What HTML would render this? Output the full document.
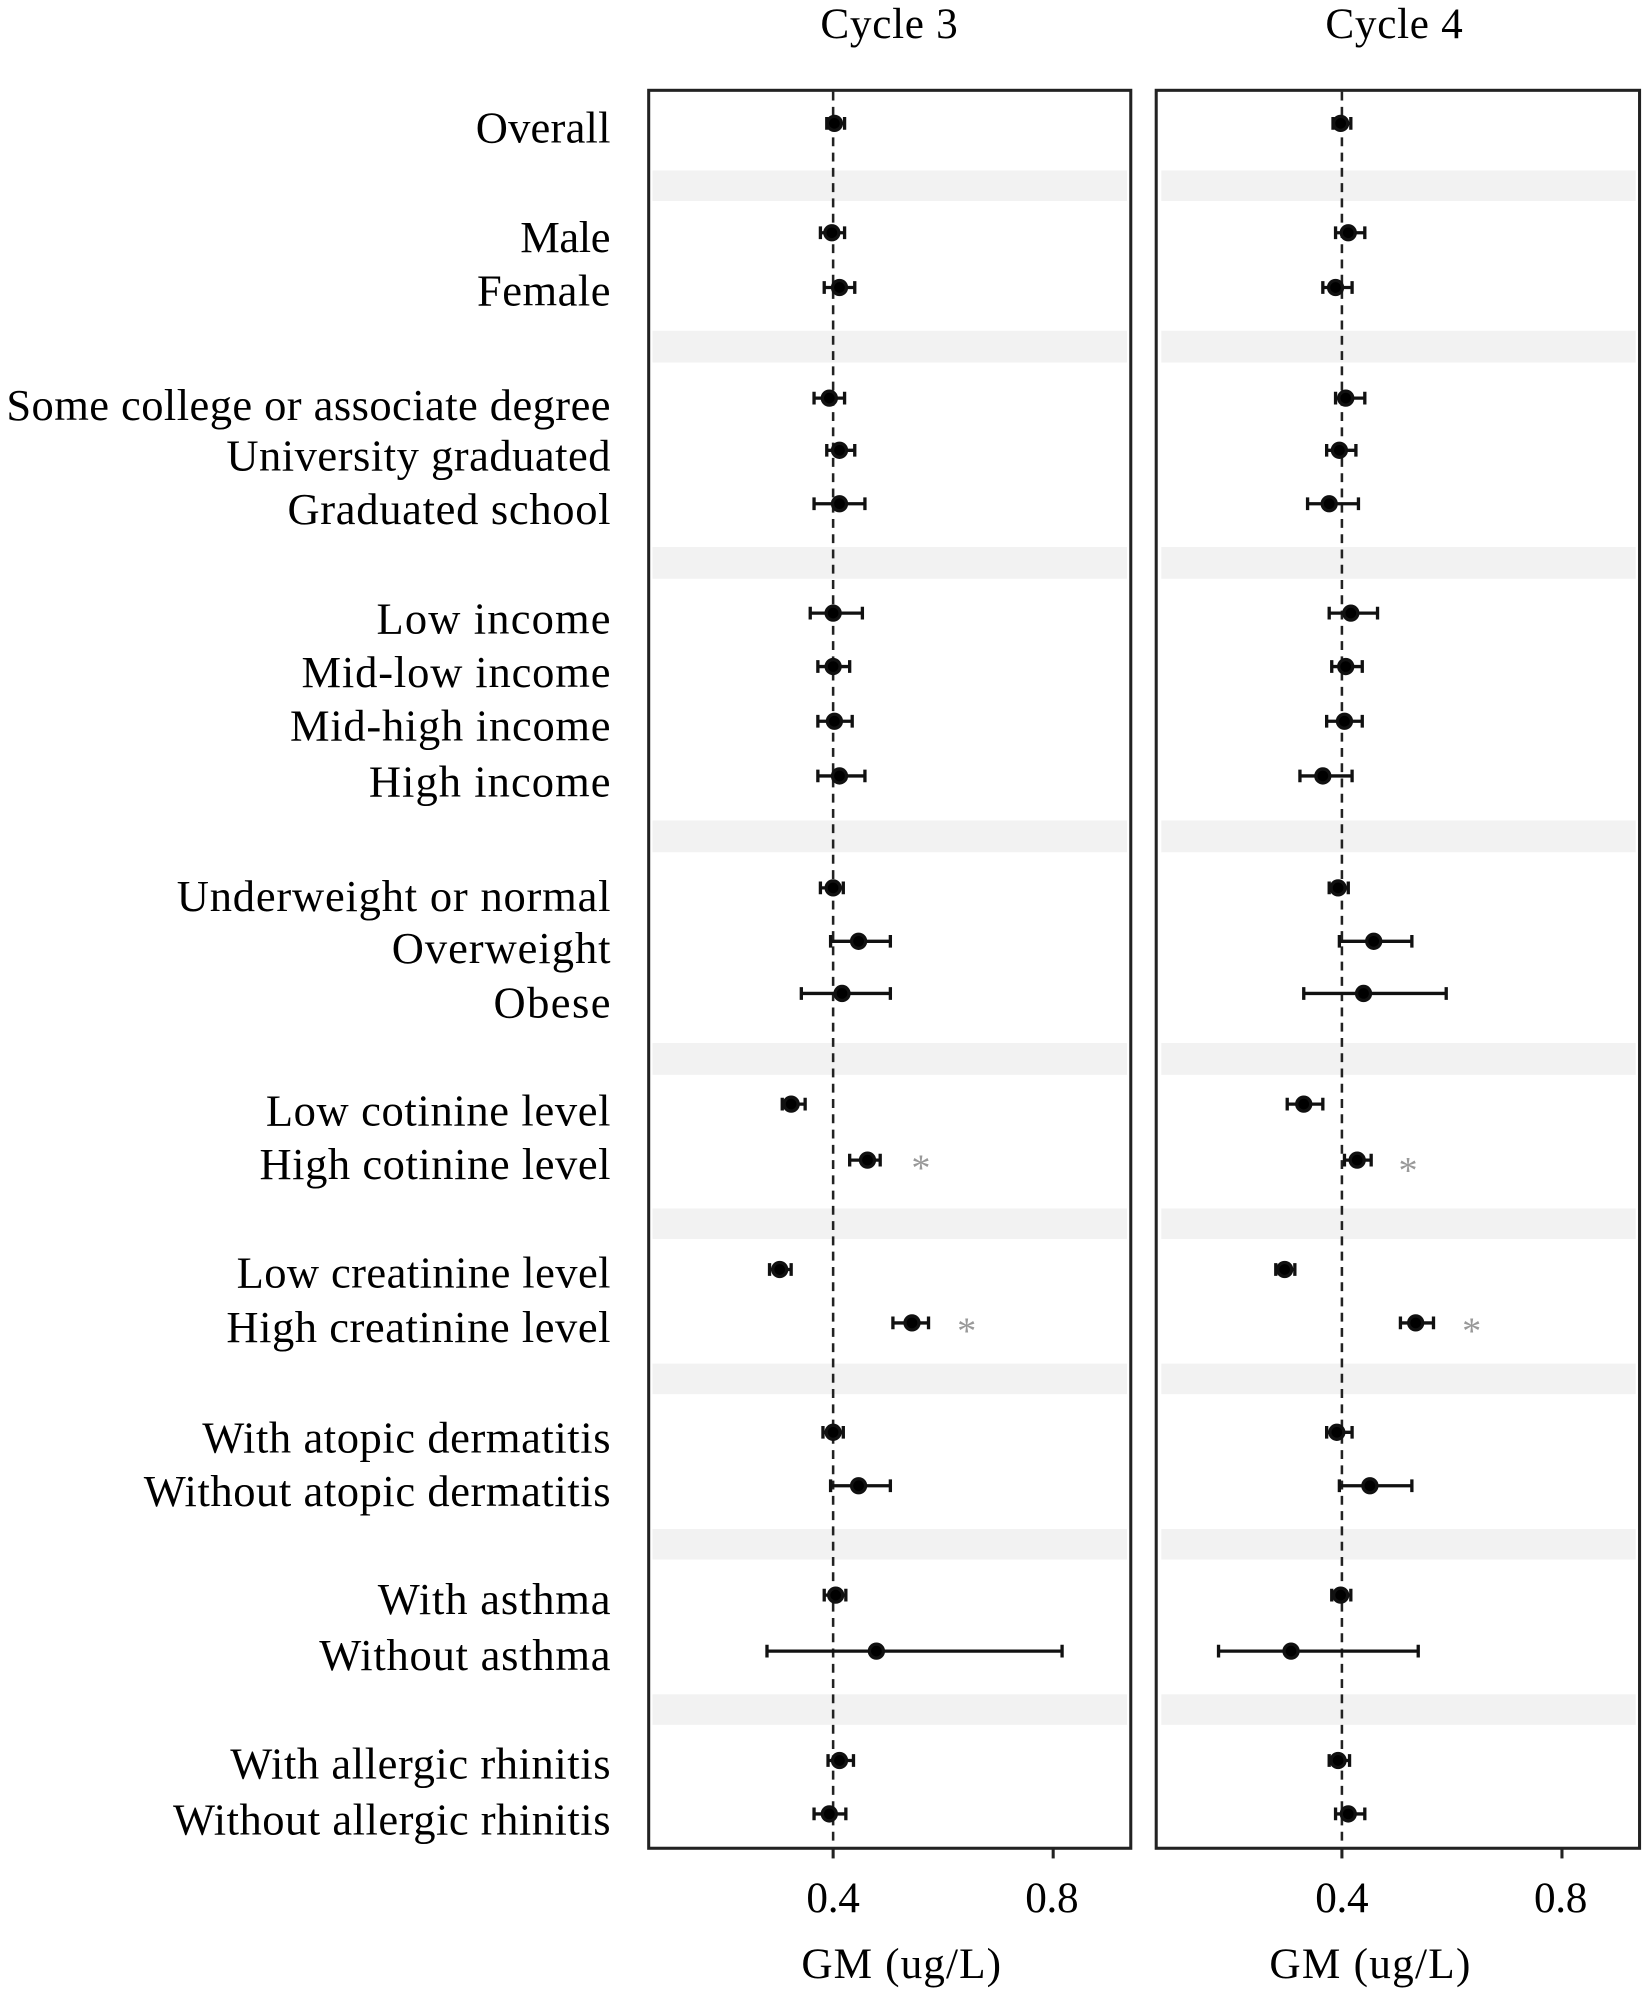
<!DOCTYPE html>
<html><head><meta charset="utf-8"><style>html,body{margin:0;padding:0;background:#fff}svg{display:block}</style></head>
<body>
<svg width="1651" height="1992" viewBox="0 0 1298 1566" preserveAspectRatio="none" xmlns="http://www.w3.org/2000/svg" font-family="Liberation Serif, serif">
<g fill="#f2f2f2">
<rect x="513" y="134" width="373" height="24"/><rect x="913" y="134" width="373" height="24"/>
<rect x="513" y="260" width="373" height="25"/><rect x="913" y="260" width="373" height="25"/>
<rect x="513" y="430" width="373" height="25"/><rect x="913" y="430" width="373" height="25"/>
<rect x="513" y="645" width="373" height="25"/><rect x="913" y="645" width="373" height="25"/>
<rect x="513" y="820" width="373" height="25"/><rect x="913" y="820" width="373" height="25"/>
<rect x="513" y="950" width="373" height="24"/><rect x="913" y="950" width="373" height="24"/>
<rect x="513" y="1072" width="373" height="24"/><rect x="913" y="1072" width="373" height="24"/>
<rect x="513" y="1202" width="373" height="24"/><rect x="913" y="1202" width="373" height="24"/>
<rect x="513" y="1332" width="373" height="24"/><rect x="913" y="1332" width="373" height="24"/>
</g>
<g stroke="#222" stroke-width="2" stroke-dasharray="7,5">
<line x1="655" y1="72" x2="655" y2="1452"/><line x1="1055" y1="72" x2="1055" y2="1452"/>
</g>
<g fill="none" stroke="#222" stroke-width="2.4">
<rect x="510" y="71" width="379" height="1382"/><rect x="909" y="71" width="380" height="1382"/>
<line x1="655" y1="1453" x2="655" y2="1461"/><line x1="828" y1="1453" x2="828" y2="1461"/>
<line x1="1055" y1="1453" x2="1055" y2="1461"/><line x1="1228" y1="1453" x2="1228" y2="1461"/>
</g>
<g font-size="34" fill="#000" lengthAdjust="spacingAndGlyphs">
<text x="645" y="30" textLength="108">Cycle 3</text><text x="1042" y="30" textLength="108">Cycle 4</text>
<text x="634" y="1503" textLength="42">0.4</text><text x="806" y="1503" textLength="42">0.8</text>
<text x="1034" y="1503" textLength="42">0.4</text><text x="1206" y="1503" textLength="42">0.8</text>
<text x="630" y="1555" textLength="157">GM (ug/L)</text><text x="998" y="1555" textLength="158">GM (ug/L)</text>
</g>
<g font-size="35" fill="#000" lengthAdjust="spacingAndGlyphs">
<text x="374" y="112" textLength="106">Overall</text>
<text x="409" y="198" textLength="71">Male</text>
<text x="375" y="240" textLength="105">Female</text>
<text x="5" y="330" textLength="475">Some college or associate degree</text>
<text x="178" y="370" textLength="302">University graduated</text>
<text x="226" y="412" textLength="254">Graduated school</text>
<text x="296" y="498" textLength="184">Low income</text>
<text x="237" y="540" textLength="243">Mid-low income</text>
<text x="228" y="582" textLength="252">Mid-high income</text>
<text x="290" y="626" textLength="190">High income</text>
<text x="139" y="716" textLength="341">Underweight or normal</text>
<text x="308" y="757" textLength="172">Overweight</text>
<text x="388" y="800" textLength="92">Obese</text>
<text x="209" y="885" textLength="271">Low cotinine level</text>
<text x="204" y="927" textLength="276">High cotinine level</text>
<text x="186" y="1012" textLength="294">Low creatinine level</text>
<text x="178" y="1055" textLength="302">High creatinine level</text>
<text x="159" y="1142" textLength="321">With atopic dermatitis</text>
<text x="113" y="1184" textLength="367">Without atopic dermatitis</text>
<text x="297" y="1269" textLength="183">With asthma</text>
<text x="251" y="1313" textLength="229">Without asthma</text>
<text x="181" y="1398" textLength="299">With allergic rhinitis</text>
<text x="136" y="1442" textLength="344">Without allergic rhinitis</text>
</g>
<g font-size="30" fill="#999" text-anchor="middle">
<text x="724" y="928">*</text><text x="1107" y="930">*</text>
<text x="760" y="1056">*</text><text x="1157" y="1056">*</text>
</g>
<g stroke="#111" stroke-width="2.6" fill="#000">
<path d="M650 97h14M650 92v10M664 92v10M1048 97h14M1048 92v10M1062 92v10"/><circle cx="656" cy="97" r="5.5"/><circle cx="1054" cy="97" r="5.5"/>
<path d="M645 183h19M645 178v10M664 178v10M1050 183h23M1050 178v10M1073 178v10"/><circle cx="654" cy="183" r="5.5"/><circle cx="1060" cy="183" r="5.5"/>
<path d="M648 226h24M648 221v10M672 221v10M1040 226h23M1040 221v10M1063 221v10"/><circle cx="660" cy="226" r="5.5"/><circle cx="1050" cy="226" r="5.5"/>
<path d="M640 313h24M640 308v10M664 308v10M1050 313h23M1050 308v10M1073 308v10"/><circle cx="652" cy="313" r="5.5"/><circle cx="1058" cy="313" r="5.5"/>
<path d="M650 354h22M650 349v10M672 349v10M1043 354h23M1043 349v10M1066 349v10"/><circle cx="660" cy="354" r="5.5"/><circle cx="1053" cy="354" r="5.5"/>
<path d="M640 396h40M640 391v10M680 391v10M1028 396h40M1028 391v10M1068 391v10"/><circle cx="660" cy="396" r="5.5"/><circle cx="1045" cy="396" r="5.5"/>
<path d="M637 482h41M637 477v10M678 477v10M1045 482h38M1045 477v10M1083 477v10"/><circle cx="655" cy="482" r="5.5"/><circle cx="1062" cy="482" r="5.5"/>
<path d="M643 524h25M643 519v10M668 519v10M1047 524h24M1047 519v10M1071 519v10"/><circle cx="655" cy="524" r="5.5"/><circle cx="1058" cy="524" r="5.5"/>
<path d="M643 567h27M643 562v10M670 562v10M1043 567h28M1043 562v10M1071 562v10"/><circle cx="656" cy="567" r="5.5"/><circle cx="1057" cy="567" r="5.5"/>
<path d="M643 610h37M643 605v10M680 605v10M1022 610h41M1022 605v10M1063 605v10"/><circle cx="660" cy="610" r="5.5"/><circle cx="1040" cy="610" r="5.5"/>
<path d="M645 698h18M645 693v10M663 693v10M1045 698h15M1045 693v10M1060 693v10"/><circle cx="655" cy="698" r="5.5"/><circle cx="1052" cy="698" r="5.5"/>
<path d="M653 740h47M653 735v10M700 735v10M1053 740h57M1053 735v10M1110 735v10"/><circle cx="675" cy="740" r="5.5"/><circle cx="1080" cy="740" r="5.5"/>
<path d="M630 781h70M630 776v10M700 776v10M1025 781h112M1025 776v10M1137 776v10"/><circle cx="662" cy="781" r="5.5"/><circle cx="1072" cy="781" r="5.5"/>
<path d="M615 868h18M615 863v10M633 863v10M1012 868h28M1012 863v10M1040 863v10"/><circle cx="622" cy="868" r="5.5"/><circle cx="1025" cy="868" r="5.5"/>
<path d="M668 912h24M668 907v10M692 907v10M1057 912h21M1057 907v10M1078 907v10"/><circle cx="682" cy="912" r="5.5"/><circle cx="1067" cy="912" r="5.5"/>
<path d="M605 998h17M605 993v10M622 993v10M1003 998h15M1003 993v10M1018 993v10"/><circle cx="613" cy="998" r="5.5"/><circle cx="1010" cy="998" r="5.5"/>
<path d="M702 1040h28M702 1035v10M730 1035v10M1101 1040h26M1101 1035v10M1127 1035v10"/><circle cx="717" cy="1040" r="5.5"/><circle cx="1113" cy="1040" r="5.5"/>
<path d="M647 1126h16M647 1121v10M663 1121v10M1043 1126h20M1043 1121v10M1063 1121v10"/><circle cx="655" cy="1126" r="5.5"/><circle cx="1051" cy="1126" r="5.5"/>
<path d="M653 1168h47M653 1163v10M700 1163v10M1053 1168h57M1053 1163v10M1110 1163v10"/><circle cx="675" cy="1168" r="5.5"/><circle cx="1077" cy="1168" r="5.5"/>
<path d="M648 1254h17M648 1249v10M665 1249v10M1047 1254h15M1047 1249v10M1062 1249v10"/><circle cx="657" cy="1254" r="5.5"/><circle cx="1054" cy="1254" r="5.5"/>
<path d="M603 1298h232M603 1293v10M835 1293v10M958 1298h157M958 1293v10M1115 1293v10"/><circle cx="689" cy="1298" r="5.5"/><circle cx="1015" cy="1298" r="5.5"/>
<path d="M651 1384h20M651 1379v10M671 1379v10M1045 1384h16M1045 1379v10M1061 1379v10"/><circle cx="660" cy="1384" r="5.5"/><circle cx="1052" cy="1384" r="5.5"/>
<path d="M640 1426h25M640 1421v10M665 1421v10M1050 1426h23M1050 1421v10M1073 1421v10"/><circle cx="652" cy="1426" r="5.5"/><circle cx="1060" cy="1426" r="5.5"/>
</g>
</svg>
</body></html>
